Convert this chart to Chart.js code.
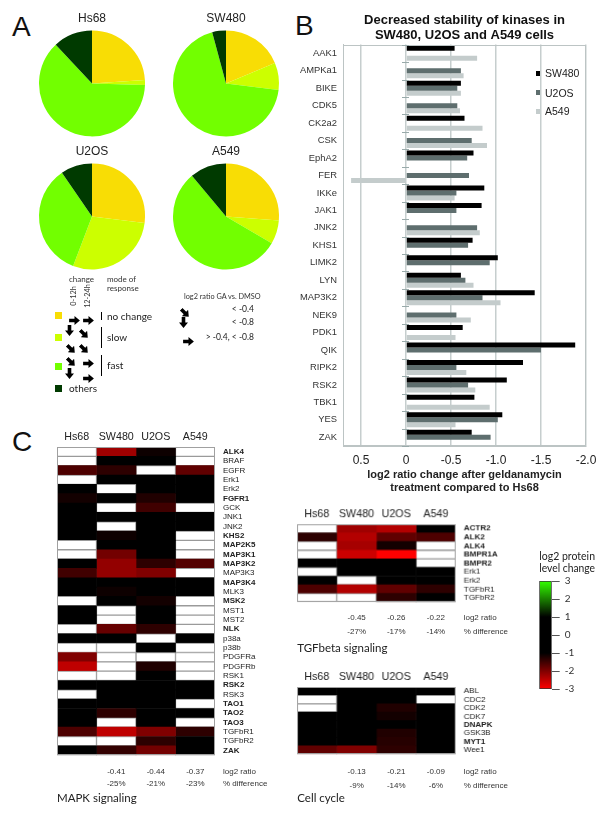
<!DOCTYPE html>
<html>
<head>
<meta charset="utf-8">
<style>
  body { margin: 0; background: #fff; }
  #fig { position: relative; width: 600px; height: 824px; overflow: hidden; font-family: "Liberation Sans", Arial, sans-serif; color: #222; }
  #fig canvas { position: absolute; }
  .abs { position: absolute; white-space: nowrap; line-height: 1; }
  .letter { font-size: 28px; color: #111; }
  .hum { font-family: Lato, "Open Sans", sans-serif; }
  .sm { font-size: 8px; color: #333; }
  .xs { font-size: 7.3px; color: #333; }
  .box { position: absolute; }
</style>
</head>
<body>
<div id="fig"></div>
<script src="https://cdn.jsdelivr.net/npm/chart.js@4.4.0/dist/chart.umd.min.js"></script>
<script>
// ---------- data ----------
const cellLines = ['Hs68', 'SW480', 'U2OS', 'A549'];

// panel A: share of kinases per mode of response (%)
const responseModes = ['no change', 'slow', 'fast', 'others'];
const pieHs68 = [24, 1.5, 62.5, 12];
const pieSW480 = [18.7, 8.3, 68.8, 4.2];
const pieU2OS = [27, 28.8, 34.6, 9.6];
const pieA549 = [26.2, 7.2, 55.4, 11.1];

// panel B: log2 ratio change after geldanamycin, compared to Hs68
const kinases = ['AAK1', 'AMPKa1', 'BIKE', 'CDK5', 'CK2a2', 'CSK', 'EphA2', 'FER', 'IKKe', 'JAK1', 'JNK2', 'KHS1',
  'LIMK2', 'LYN', 'MAP3K2', 'NEK9', 'PDK1', 'QIK', 'RIPK2', 'RSK2', 'TBK1', 'YES', 'ZAK'];
const ratioSW480 = [-0.54, null, -0.61, null, -0.65, null, -0.75, null, -0.87, -0.84, null, -0.74,
  -1.02, -0.61, -1.43, null, -0.63, -1.88, -1.30, -1.12, -0.76, -1.07, -0.73];
const ratioU2OS = [null, -0.61, -0.57, -0.57, null, -0.73, -0.68, -0.70, -0.56, -0.56, -0.79, -0.69,
  -0.93, -0.66, -0.85, -0.56, null, -1.50, -0.56, -0.69, null, -1.02, -0.94];
const ratioA549 = [-0.79, -0.64, -0.61, -0.60, -0.85, -0.90, null, 0.61, -0.54, null, -0.82, null,
  null, -0.75, -1.05, -0.72, -0.55, null, -0.67, -0.77, -0.93, -0.55, null];
const ratioTicks = [-2, -1.5, -1, -0.5, 0, 0.5];

// panel C: log2 protein level change (null = not measured)
const mapkRows = ['ALK4', 'BRAF', 'EGFR', 'Erk1', 'Erk2', 'FGFR1', 'GCK', 'JNK1', 'JNK2', 'KHS2', 'MAP2K5', 'MAP3K1',
  'MAP3K2', 'MAP3K3', 'MAP3K4', 'MLK3', 'MSK2', 'MST1', 'MST2', 'NLK', 'p38a', 'p38b', 'PDGFRa', 'PDGFRb',
  'RSK1', 'RSK2', 'RSK3', 'TAO1', 'TAO2', 'TAO3', 'TGFbR1', 'TGFbR2', 'ZAK'];
const mapkBold = ['ALK4', 'FGFR1', 'KHS2', 'MAP2K5', 'MAP3K1', 'MAP3K2', 'MAP3K4', 'MSK2', 'NLK', 'RSK2', 'TAO1', 'TAO2', 'TAO3', 'ZAK'];
const mapkHs68 = [null, null, -1.6, null, 0, -1.15, 0, 0, 0, 0, null, null,
  0, -1.5, 0, 0, null, 0, 0, null, 0, null, -2.0, -2.5,
  null, 0, null, 0, 0, 0, -1.6, null, 0];
const mapkSW480 = [-2.25, 0, -1.35, 0, null, 0, null, 0, null, -1.1, 0, -1.9,
  -2.15, -2.15, 0, -1.1, 0, null, null, -1.8, 0, null, null, null,
  null, 0, 0, 0, -1.35, null, -2.5, null, -1.4];
const mapkU2OS = [-1.1, 0, null, 0, 0, -1.25, -1.5, 0, 0, 0, 0, 0,
  -1.35, -2.0, 0, 0, -1.15, 0, 0, -1.35, null, 0, null, -1.25,
  0, 0, 0, 0, 0, 0, -2.0, -1.35, -1.9];
const mapkA549 = [null, null, -1.75, 0, 0, 0, null, 0, 0, null, null, null,
  -1.65, null, 0, 0, null, null, null, null, 0, null, null, null,
  null, 0, 0, null, 0, null, -1.35, 0, 0];
const mapkLog2 = ['-0.41', '-0.44', '-0.37'];
const mapkPct = ['-25%', '-21%', '-23%'];

const tgfRows = ['ACTR2', 'ALK2', 'ALK4', 'BMPR1A', 'BMPR2', 'Erk1', 'Erk2', 'TGFbR1', 'TGFbR2'];
const tgfBold = ['ACTR2', 'ALK2', 'ALK4', 'BMPR1A', 'BMPR2'];
const tgfHs68 = [null, -1.35, null, null, 0, null, 0, -1.6, null];
const tgfSW480 = [-2.25, -2.4, -2.3, -2.6, 0, 0, null, -2.4, null];
const tgfU2OS = [-2.4, -1.75, -1.15, -3.0, 0, 0, 0, -1.75, -1.35];
const tgfA549 = [0, -1.6, null, null, null, 0, 0, -1.35, 0];
const tgfLog2 = ['-0.45', '-0.26', '-0.22'];
const tgfPct = ['-27%', '-17%', '-14%'];

const cycleRows = ['ABL', 'CDC2', 'CDK2', 'CDK7', 'DNAPK', 'GSK3B', 'MYT1', 'Wee1'];
const cycleBold = ['DNAPK', 'MYT1'];
const cycleHs68 = [0, null, null, 0, 0, 0, 0, -1.75];
const cycleSW480 = [0, 0, 0, 0, 0, 0, 0, -2.0];
const cycleU2OS = [0, 0, -1.25, -1.15, 0, -1.25, -1.3, -1.35];
const cycleA549 = [0, null, 0, 0, 0, 0, 0, 0];
const cycleLog2 = ['-0.13', '-0.21', '-0.09'];
const cyclePct = ['-9%', '-14%', '-6%'];

const scaleTicks = [-3, -2, -1, 0, 1, 2, 3];

// ---------- styles ----------
const pieColors = ['#f8dd05', '#ccff00', '#72ff00', '#003a00'];
const barColors = ['#000000', '#5e6e6e', '#c4cccc'];
const stopValues = [3, 1, -1, -3];
const stopColors = [[51, 255, 0], [0, 0, 0], [0, 0, 0], [255, 0, 0]];

Chart.defaults.font.family = '"Liberation Sans", Arial, sans-serif';
Chart.defaults.color = '#222';
const fig = document.getElementById('fig');

function place(x, y, w, h) {
  const c = document.createElement('canvas');
  c.width = w; c.height = h;
  c.style.left = x + 'px'; c.style.top = y + 'px';
  c.style.width = w + 'px'; c.style.height = h + 'px';
  fig.appendChild(c);
  return c;
}

function label(text, x, y, cls, align, rotate) {
  const d = document.createElement('div');
  d.className = 'abs ' + (cls || '');
  d.textContent = text;
  d.style.left = x + 'px';
  d.style.top = y + 'px';
  const ax = align === 'center' ? '-50%' : align === 'right' ? '-100%' : '0';
  d.style.transform = 'translate(' + ax + ', -50%)' + (rotate ? ' rotate(' + rotate + 'deg)' : '');
  fig.appendChild(d);
  return d;
}

function rect(x, y, w, h, color) {
  const d = document.createElement('div');
  d.className = 'box';
  d.style.cssText += `left:${x}px;top:${y}px;width:${w}px;height:${h}px;background:${color};`;
  fig.appendChild(d);
}

function arrow(cx, cy, angle) {
  const d = document.createElement('div');
  d.className = 'box';
  d.style.cssText += `left:${cx - 5.5}px;top:${cy - 4.5}px;width:11px;height:9px;transform:rotate(${angle}deg);`;
  d.innerHTML = '<svg width="11" height="9" viewBox="0 0 12 10"><path d="M0 3H6V0L12 5L6 10V7H0Z" fill="#000"/></svg>';
  fig.appendChild(d);
}

function heatColor(v) {
  if (v === null || v === undefined) return '#ffffff';
  for (let i = 0; i < stopValues.length - 1; i++) {
    const a = stopValues[i], b = stopValues[i + 1];
    if (v <= a && v >= b) {
      const t = (a - v) / (a - b);
      const c = stopColors[i].map((k, j) => Math.round(k + (stopColors[i + 1][j] - k) * t));
      return `rgb(${c[0]},${c[1]},${c[2]})`;
    }
  }
  return v > 0 ? 'rgb(51,255,0)' : 'rgb(255,0,0)';
}

// stroke round the plot area
const frame = {
  id: 'frame',
  afterDatasetsDraw(chart, args, opts) {
    const { ctx, chartArea: a } = chart;
    ctx.save();
    ctx.strokeStyle = opts.color || '#999';
    ctx.lineWidth = 1;
    ctx.strokeRect(Math.round(a.left) + 0.5, Math.round(a.top) + 0.5, Math.round(a.width) - 1, Math.round(a.height) - 1);
    ctx.restore();
  }
};

// small marks on the zero line between categories
const zeroMarks = {
  id: 'zeroMarks',
  afterDatasetsDraw(chart) {
    const { ctx } = chart;
    const x0 = chart.scales.x.getPixelForValue(0);
    const y = chart.scales.y;
    ctx.save();
    ctx.strokeStyle = '#9aa';
    ctx.lineWidth = 1;
    for (let i = 0; i <= y.ticks.length; i++) {
      const py = Math.round(y.getPixelForValue(i - 0.5)) + 0.5;
      ctx.beginPath(); ctx.moveTo(x0 - 4, py); ctx.lineTo(x0 + 3, py); ctx.stroke();
    }
    ctx.restore();
  }
};

// ---------- panel A ----------
function pie(x, y, title, values) {
  new Chart(place(x, y, 120, 134), {
    type: 'pie',
    data: { labels: responseModes, datasets: [{ data: values, backgroundColor: pieColors, borderWidth: 0, hoverBorderWidth: 0 }] },
    options: {
      responsive: false, animation: false,
      layout: { padding: { left: 7, right: 7, top: 0, bottom: 3.6 } },
      plugins: {
        legend: { display: false }, tooltip: { enabled: false },
        title: { display: true, text: title, color: '#222', font: { size: 12, weight: 'normal' }, padding: { top: 5, bottom: 5 } }
      }
    }
  });
}
pie(32, 6, 'Hs68', pieHs68);
pie(166, 6, 'SW480', pieSW480);
pie(32, 139, 'U2OS', pieU2OS);
pie(166, 139, 'A549', pieA549);

label('A', 12, 27, 'letter');
label('B', 295, 26, 'letter');
label('C', 12, 442, 'letter');

// legend of panel A
label('change', 69, 279, 'hum sm');
label('mode of', 107, 279, 'hum sm');
label('response', 107, 288, 'hum sm');
label('0-12h', 74, 296, 'hum xs', 'center', -90);
label('12-24h', 88, 296, 'hum xs', 'center', -90);
[[315, 0], [337, 1], [366, 2], [388, 3]].forEach(([cy, i]) => rect(55, cy - 3.5, 7, 7, pieColors[i]));
arrow(74, 315, 0); arrow(88, 315, 0);
arrow(74, 330, 90); arrow(87, 330, 45);
arrow(74, 345, 45); arrow(87, 345, 45);
arrow(74, 358, 45); arrow(88, 358, 0);
arrow(74, 373, 90); arrow(88, 373, 0);
rect(100.5, 312, 1.3, 7.5, '#000');
rect(100.5, 327, 1.3, 20.5, '#000');
rect(100.5, 355, 1.3, 21, '#000');
label('no change', 107, 315.5, 'hum').style.fontSize = '10px';
label('slow', 107, 337, 'hum').style.fontSize = '10px';
label('fast', 107, 365, 'hum').style.fontSize = '10px';
label('others', 69, 388, 'hum').style.fontSize = '10px';
label('log2 ratio GA vs. DMSO', 184, 296.5, 'hum xs');
arrow(188, 309, 45); arrow(188, 322, 90); arrow(188, 336.5, 0);
label('< -0.4', 254, 308.5, 'hum', 'right').style.fontSize = '8.5px';
label('< -0.8', 254, 322, 'hum', 'right').style.fontSize = '8.5px';
label('> -0.4, < -0.8', 254, 336.5, 'hum', 'right').style.fontSize = '8.5px';

// ---------- panel B ----------
new Chart(place(290, 0, 310, 500), {
  type: 'bar',
  data: {
    labels: kinases,
    datasets: [
      { label: 'SW480', data: ratioSW480, backgroundColor: barColors[0] },
      { label: 'U2OS', data: ratioU2OS, backgroundColor: barColors[1] },
      { label: 'A549', data: ratioA549, backgroundColor: barColors[2] }
    ].map(d => Object.assign(d, { barPercentage: 1, categoryPercentage: 0.86 }))
  },
  options: {
    indexAxis: 'y', responsive: false, animation: false,
    layout: { padding: { right: 14, bottom: 0, left: 0 } },
    scales: {
      x: {
        reverse: true, min: -2, max: 0.7,
        afterBuildTicks: ax => { ax.ticks = ratioTicks.map(v => ({ value: v })); },
        afterFit: s => { s.height = 54; },
        grid: { color: '#c6cece', lineWidth: 1.5, drawTicks: false },
        border: { color: '#bcc4c4' },
        ticks: { padding: 7, color: '#222', font: { size: 12 }, callback: v => v === 0 ? '0' : v.toFixed(1) },
        title: {
          display: true, color: '#222',
          text: ['log2 ratio change after geldanamycin', 'treatment compared to Hs68'],
          font: { size: 11, weight: 'bold', lineHeight: 13 / 11 }, padding: { top: 0, bottom: 5.5 }
        }
      },
      y: {
        afterFit: s => { s.width = 53; },
        grid: { display: false, drawTicks: false },
        border: { color: '#bcc4c4' },
        ticks: { autoSkip: false, padding: 6, color: '#333', font: { size: 9.4 } }
      }
    },
    plugins: {
      legend: { display: false }, tooltip: { enabled: false },
      frame: { color: '#bcc4c4' },
      title: {
        display: true, fullSize: false, color: '#111',
        text: ['Decreased stability of kinases in', 'SW480, U2OS and A549 cells'],
        font: { size: 13, weight: 'bold', lineHeight: 1.1 }, padding: { top: 13.5, bottom: 2.5 }
      }
    }
  },
  plugins: [frame, zeroMarks]
});

// legend of panel B
['SW480', 'U2OS', 'A549'].forEach((name, i) => {
  const cy = [73, 92.5, 111][i];
  rect(535.5, cy - 2.5, 4, 5, barColors[i]);
  label(name, 545, cy, '').style.fontSize = '10.5px';
});

// ---------- panel C ----------
function heatmap(gl, gt, gw, gh, rows, boldRows, series) {
  const padL = 6, topH = 24, rightW = 70, padB = 4;
  new Chart(place(gl - padL, gt - topH, gw + padL + rightW, gh + topH + padB), {
    type: 'bar',
    data: {
      labels: rows,
      datasets: series.map((vals, i) => ({
        label: cellLines[i],
        data: vals.map(() => 1),
        backgroundColor: ctx => heatColor(vals[ctx.dataIndex]),
        borderColor: '#9a9a9a',
        borderWidth: ctx => vals[ctx.dataIndex] === null ? 1 : 0,
        borderSkipped: false,
        barPercentage: 1, categoryPercentage: 1
      }))
    },
    options: {
      indexAxis: 'y', responsive: false, animation: false,
      layout: { padding: { left: padL, right: 0, top: 0, bottom: padB } },
      scales: {
        x: {
          type: 'linear', position: 'top', stacked: true, min: 0, max: 4,
          afterBuildTicks: ax => { ax.ticks = cellLines.map((_, i) => ({ value: i + 0.5 })); },
          afterFit: s => { s.height = topH; },
          grid: { display: false, drawTicks: false }, border: { display: false },
          ticks: { callback: (v, i) => cellLines[i], padding: 4, color: '#222', font: { size: 10.7 }, maxRotation: 0 }
        },
        y: {
          position: 'right', stacked: true,
          afterFit: s => { s.width = rightW; },
          grid: { display: false, drawTicks: false }, border: { display: false },
          ticks: {
            autoSkip: false, padding: 8, color: '#222',
            font: ctx => ({ size: 8, weight: boldRows.includes(rows[ctx.index]) ? 'bold' : 'normal' })
          }
        }
      },
      plugins: { legend: { display: false }, tooltip: { enabled: false }, frame: { color: '#a0a0a0' } }
    },
    plugins: [frame]
  });
}

function summary(gl, gw, y1, y2, log2, pct, name, y3) {
  const cw = gw / 4;
  log2.forEach((t, i) => label(t, gl + cw * (i + 1.5), y1, 'sm', 'center'));
  pct.forEach((t, i) => label(t, gl + cw * (i + 1.5), y2, 'sm', 'center'));
  label('log2 ratio', gl + gw + 8, y1, 'sm');
  label('% difference', gl + gw + 8, y2, 'sm');
  label(name, gl, y3, 'hum').style.fontSize = '11.5px';
}

heatmap(57, 447.3, 158, 317, mapkRows, mapkBold, [mapkHs68, mapkSW480, mapkU2OS, mapkA549]);
summary(57, 158, 772, 784, mapkLog2, mapkPct, 'MAPK signaling', 798);

heatmap(297.3, 524.3, 158.4, 86.7, tgfRows, tgfBold, [tgfHs68, tgfSW480, tgfU2OS, tgfA549]);
summary(297.3, 158.4, 618, 632, tgfLog2, tgfPct, 'TGFbeta signaling', 648);

heatmap(297.3, 686.7, 158.4, 76.6, cycleRows, cycleBold, [cycleHs68, cycleSW480, cycleU2OS, cycleA549]);
summary(297.3, 158.4, 772, 785.5, cycleLog2, cyclePct, 'Cell cycle', 798);

// colour scale
new Chart(place(505, 540, 90, 160), {
  type: 'bar',
  data: {
    labels: [''],
    datasets: [{
      data: [[scaleTicks[0], scaleTicks[scaleTicks.length - 1]]],
      backgroundColor: ctx => {
        const chart = ctx.chart, y = chart.scales.y;
        if (!chart.chartArea || !y) return '#000';
        const top = y.getPixelForValue(3), bottom = y.getPixelForValue(-3);
        const g = chart.ctx.createLinearGradient(0, top, 0, bottom);
        stopValues.forEach((v, i) => g.addColorStop((3 - v) / 6, `rgb(${stopColors[i].join(',')})`));
        return g;
      },
      borderColor: '#333', borderWidth: 1, borderSkipped: false,
      barPercentage: 1, categoryPercentage: 1
    }]
  },
  options: {
    responsive: false, animation: false,
    layout: { padding: { left: 34.3, right: 0, bottom: 8 } },
    scales: {
      x: { display: false },
      y: {
        position: 'right', min: -3, max: 3,
        afterBuildTicks: ax => { ax.ticks = scaleTicks.map(v => ({ value: v })); },
        afterFit: s => { s.width = 43.3; },
        grid: { drawOnChartArea: false, drawTicks: true, tickLength: 8, color: '#555' },
        border: { display: false },
        ticks: { padding: 5, color: '#333', font: { family: 'Lato', size: 10 } }
      }
    },
    plugins: {
      legend: { display: false }, tooltip: { enabled: false },
      title: {
        display: true, text: ['log2 protein', 'level change'], color: '#222',
        font: { family: 'Lato', size: 11, weight: 'normal', lineHeight: 12 / 11 }, padding: { top: 10, bottom: 7 }
      }
    }
  }
});
</script>
</body>
</html>
